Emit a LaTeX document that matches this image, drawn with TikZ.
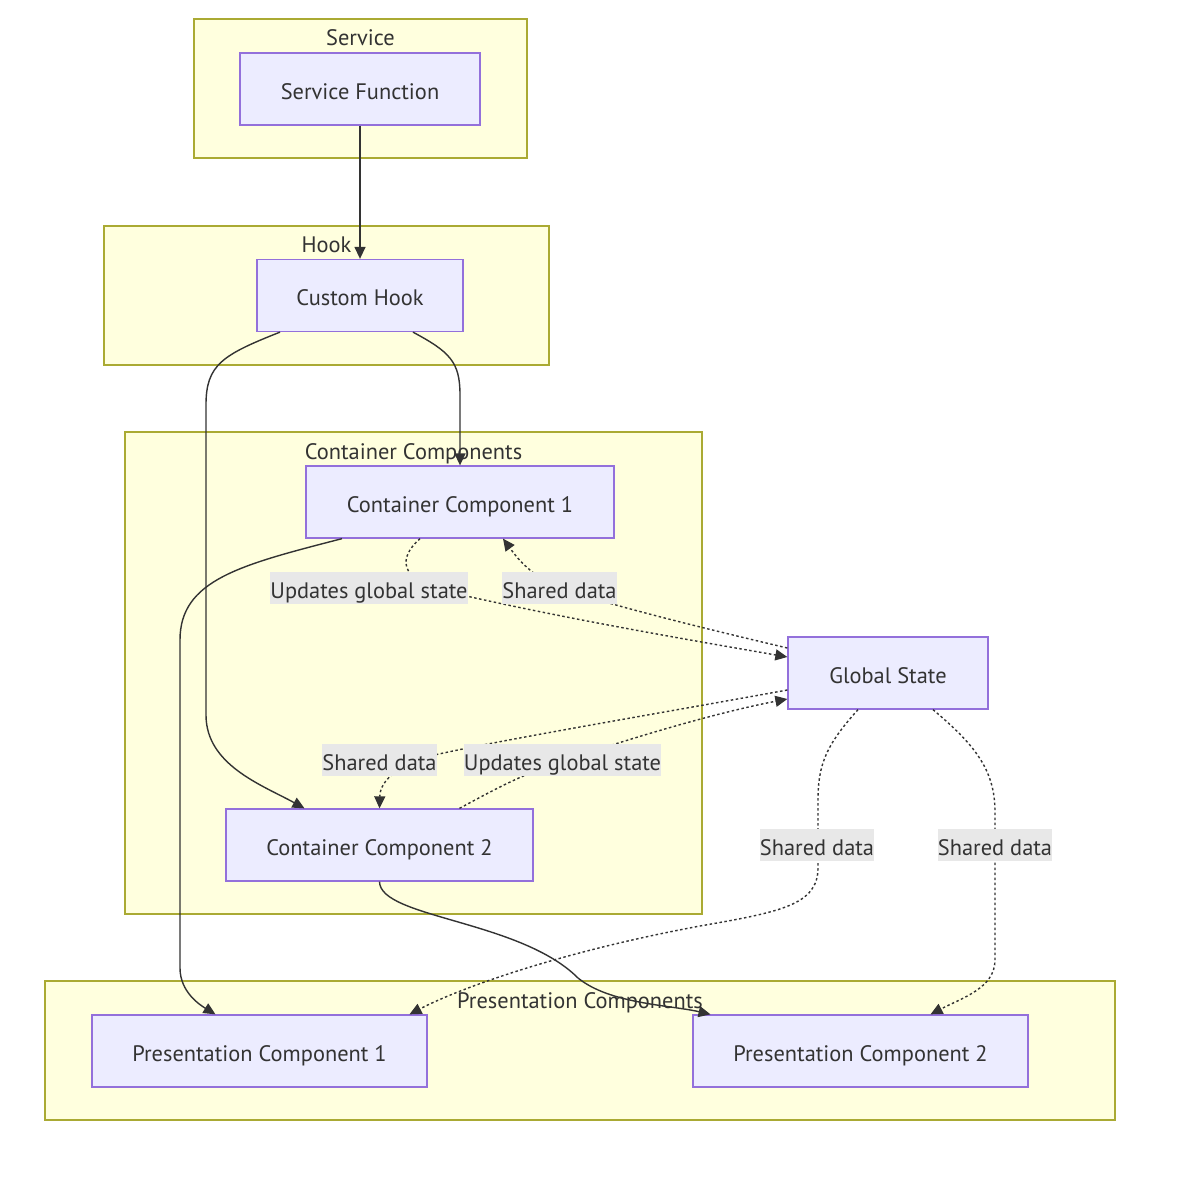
\documentclass[tikz,border=0pt]{standalone}
\usepackage{fontspec}
\setmainfont{PT Sans}
\usetikzlibrary{arrows.meta,calc}
\definecolor{clfill}{HTML}{FFFFDE}
\definecolor{clstroke}{HTML}{AAAA33}
\definecolor{ndfill}{HTML}{ECECFF}
\definecolor{ndstroke}{HTML}{9370DB}
\definecolor{ink}{HTML}{333333}
\definecolor{lblbg}{HTML}{E8E8E8}
\begin{document}
\begin{tikzpicture}[x=1pt,y=-1pt,
  font=\fontsize{22.4}{27}\selectfont,
  cluster/.style={draw=clstroke, fill=clfill, line width=1.3pt, inner sep=0pt},
  ctitle/.style={anchor=base, text=ink, inner sep=0pt},
  box/.style={draw=ndstroke, fill=ndfill, line width=1.3pt, text=ink,
              text height=25pt, text depth=4pt, inner sep=0pt, minimum height=72pt},
  edge/.style={draw=ink, line width=1.4pt, -{Triangle[length=12pt,width=11pt]}},
  dotedge/.style={edge, dash pattern=on 2.5pt off 2.5pt},
  lbl/.style={fill=lblbg, text=ink, anchor=base, inner xsep=0pt, inner ysep=0pt,
              text height=26pt, text depth=5.5pt}
]
\useasboundingbox[fill=white] (0,0) rectangle (1200,1182);

% clusters
\node[cluster, minimum width=333pt, minimum height=139pt] (svc) at (360.5,88.5) {};
\node[ctitle] (svct) at (360.5,46) {Service};
\node[cluster, minimum width=445pt, minimum height=139pt] (hook) at (326.5,295.5) {};
\node[ctitle] (hookt) at (326.5,253) {Hook};
\node[cluster, minimum width=577pt, minimum height=482pt] (cont) at (413.5,673) {};
\node[ctitle] (contt) at (413.5,459) {Container Components};
\node[cluster, minimum width=1070pt, minimum height=139pt] (pres) at (580,1050.5) {};
\node[ctitle] (prest) at (580,1008) {Presentation Components};

% nodes
\node[box, minimum width=240pt] (sf) at (360,89) {Service Function};
\node[box, minimum width=206pt] (ch) at (360,295.5) {Custom Hook};
\node[box, minimum width=308pt] (cc1) at (460,502) {Container Component 1};
\node[box, minimum width=307pt] (cc2) at (379.5,845) {Container Component 2};
\node[box, minimum width=200pt] (gs) at (888,673) {Global State};
\node[box, minimum width=335pt] (pc1) at (259.5,1051) {Presentation Component 1};
\node[box, minimum width=335pt] (pc2) at (860.5,1051) {Presentation Component 2};

% solid edges
\draw[edge] (sf) -- (ch);
\draw[edge] ([xshift=53pt]ch.south) .. controls (450,352) and (460,362) .. (460,395) -- (cc1.north);
\draw[edge] ([xshift=-80pt]ch.south) .. controls (222,355) and (206,365) .. (206,405)
  -- (206,715) .. controls (206,765) and (262,785) .. ([xshift=-75pt]cc2.north);
\draw[edge] ([xshift=-118pt]cc1.south) .. controls (240,565) and (180,580) .. (180,640)
  -- (180,968) .. controls (180,992) and (200,1005) .. ([xshift=-44pt]pc1.north);
\draw[edge] (cc2.south) .. controls (380,918) and (520,920) .. (578,978)
  .. controls (610,1004) and (670,1005) .. ([xshift=-150pt]pc2.north);

% dotted edges
\draw[dotedge] ([xshift=-40pt]cc1.south) .. controls (398,558) and (400,578) .. (440,590)
  .. controls (560,618) and (690,640) .. ([yshift=16pt]gs.west);
\draw[dotedge] ([yshift=25pt]gs.west) .. controls (690,625) and (610,605) .. (560,588)
  .. controls (530,576) and (515,555) .. ([xshift=43pt]cc1.south);
\draw[dotedge] ([yshift=-17pt]gs.west) .. controls (650,715) and (500,740) .. (430,756)
  .. controls (390,768) and (380,785) .. (cc2.north);
\draw[dotedge] ([xshift=80pt]cc2.north) .. controls (490,792) and (520,775) .. (560,762)
  .. controls (640,735) and (720,712) .. ([yshift=-26pt]gs.west);
\draw[dotedge] ([xshift=-30pt]gs.south) .. controls (826,745) and (818,765) .. (818,800)
  -- (818,868) .. controls (818,905) and (780,912) .. (700,926)
  .. controls (560,952) and (460,988) .. ([xshift=150pt]pc1.north);
\draw[dotedge] ([xshift=45pt]gs.south) .. controls (975,745) and (995,770) .. (995,812)
  -- (995,960) .. controls (995,988) and (962,998) .. ([xshift=70pt]pc2.north);

% edge labels
\node[lbl] (l1) at (369,598) {Updates global state};
\node[lbl] (l2) at (559.5,598) {Shared data};
\node[lbl] (l3) at (379.5,770) {Shared data};
\node[lbl] (l4) at (562.5,770) {Updates global state};
\node[lbl] (l5) at (817,855) {Shared data};
\node[lbl] (l6) at (995,855) {Shared data};
\end{tikzpicture}
\end{document}
